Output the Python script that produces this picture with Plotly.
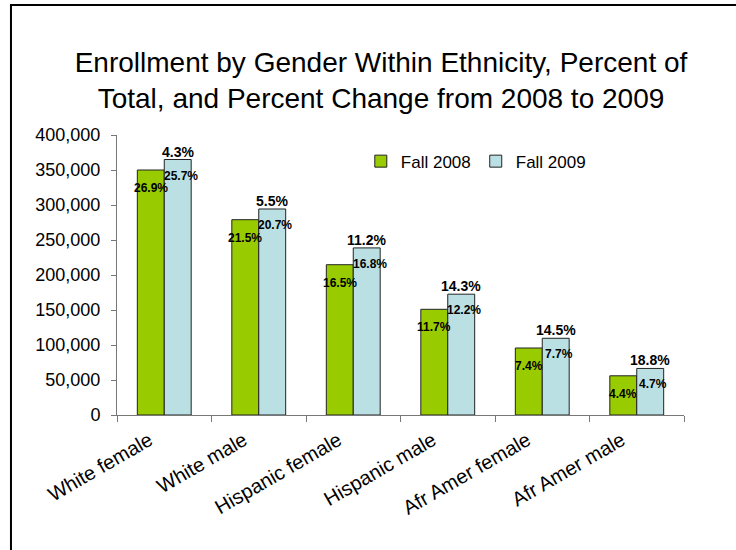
import plotly.graph_objects as go

categories = ["White female", "White male", "Hispanic female", "Hispanic male", "Afr Amer female", "Afr Amer male"]
fall_2008 = [350000, 279000, 214700, 151000, 95700, 56000]
fall_2009 = [365000, 294300, 238700, 172600, 109600, 66500]
share_2008 = ["26.9%", "21.5%", "16.5%", "11.7%", "7.4%", "4.4%"]
share_2009 = ["25.7%", "20.7%", "16.8%", "12.2%", "7.7%", "4.7%"]
pct_change = ["4.3%", "5.5%", "11.2%", "14.3%", "14.5%", "18.8%"]
y_ticks = [0, 50000, 100000, 150000, 200000, 250000, 300000, 350000, 400000]
y_tick_labels = ["0", "50,000", "100,000", "150,000", "200,000", "250,000", "300,000", "350,000", "400,000"]

FONT = "Liberation Sans, Arial, sans-serif"
GREEN = "#99CC00"
BLUE = "#BBE0E3"

fig = go.Figure()
fig.add_trace(go.Bar(name="Fall 2008", x=categories, y=fall_2008,
                     marker=dict(color=GREEN, line=dict(color="#222222", width=1))))
fig.add_trace(go.Bar(name="Fall 2009", x=categories, y=fall_2009,
                     marker=dict(color=BLUE, line=dict(color="#222222", width=1))))

half = 13.5
ann = []
for c, v, t in zip(categories, fall_2008, share_2008):
    ann.append(dict(x=c, y=v, text=t, showarrow=False, xshift=-half, yshift=-18,
                    xanchor="center", yanchor="middle",
                    font=dict(family=FONT, size=12, color="black", weight="bold")))
for c, v, t in zip(categories, fall_2009, share_2009):
    ann.append(dict(x=c, y=v, text=t, showarrow=False, xshift=half + 3, yshift=-16,
                    xanchor="center", yanchor="middle",
                    font=dict(family=FONT, size=12, color="black", weight="bold")))
for c, v, t in zip(categories, fall_2009, pct_change):
    ann.append(dict(x=c, y=v, text=t, showarrow=False, xshift=half, yshift=-2,
                    xanchor="center", yanchor="bottom",
                    font=dict(family=FONT, size=14, color="black", weight="bold")))

fig.update_layout(
    width=736, height=550,
    margin=dict(l=117, r=52, t=135, b=135),
    paper_bgcolor="white", plot_bgcolor="white",
    barmode="group", bargap=0.43, bargroupgap=0,
    font=dict(family=FONT, color="black"),
    title=dict(text="Enrollment by Gender Within Ethnicity, Percent of<br>Total, and Percent Change from 2008 to 2009",
               x=381 / 736, xref="container", xanchor="center",
               y=1 - 72 / 550, yref="container", yanchor="middle",
               font=dict(family=FONT, size=28, color="black")),
    legend=dict(orientation="h", x=0.43, xanchor="left", y=0.905, yanchor="middle",
                font=dict(family=FONT, size=17, color="black"),
                bgcolor="rgba(0,0,0,0)", itemwidth=30, traceorder="normal"),
    annotations=ann,
    shapes=[dict(type="rect", xref="paper", yref="paper",
                 x0=-0.187, x1=1.3, y0=-0.7, y1=1.464,
                 line=dict(color="black", width=2), fillcolor="rgba(0,0,0,0)")],
)
fig.update_xaxes(showline=True, linecolor="#777777", linewidth=1,
                 ticks="outside", tickson="boundaries", ticklen=6, tickcolor="#777777",
                 tickangle=-30, tickfont=dict(family=FONT, size=20, color="black"),
                 ticklabelshift=-15, ticklabelstandoff=5, showgrid=False)
fig.update_yaxes(range=[0, 400000], tickvals=y_ticks, ticktext=y_tick_labels,
                 showline=True, linecolor="#777777", linewidth=1,
                 ticks="outside", ticklen=5, tickcolor="#777777",
                 tickfont=dict(family=FONT, size=18, color="black"),
                 ticklabelstandoff=7, showgrid=False, zeroline=False)

fig.write_html("out.html", config={"displayModeBar": False},
               post_script="document.body.style.margin='0';document.body.style.overflow='hidden';")
